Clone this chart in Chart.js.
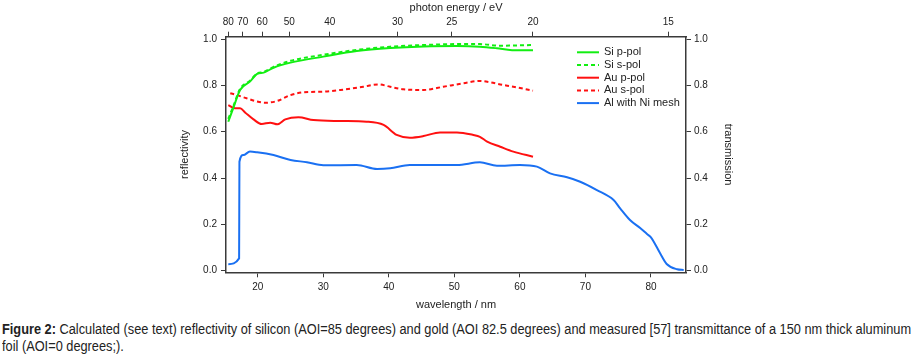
<!DOCTYPE html>
<html>
<head>
<meta charset="utf-8">
<script src="https://cdn.jsdelivr.net/npm/chart.js@4/dist/chart.umd.min.js"></script>
<style>
  html, body { margin: 0; padding: 0; background: #fff; }
  #wrap { position: relative; width: 916px; height: 358px; overflow: hidden; }
  #chart { position: absolute; left: 0; top: 0; }
  #caption {
    position: absolute; left: 2px; top: 321px; width: 997px;
    transform: scaleX(0.913); transform-origin: 0 0;
    font-family: "Liberation Sans Narrow", "Arial Narrow", "Liberation Sans", sans-serif;
    font-size: 14px; line-height: 17px; color: #222;
  }
  #caption b { font-weight: bold; }
</style>
</head>
<body>
<div id="wrap">
  <canvas id="chart" width="916" height="313"></canvas>
  <div id="caption"><b>Figure 2:</b> Calculated (see text) reflectivity of silicon (AOI=85 degrees) and gold (AOI 82.5 degrees) and measured [57] transmittance of a 150 nm thick aluminum foil (AOI=0 degrees;).</div>
</div>
<script>
const HC = 1239.84;

const wavelengthTicks = [20, 30, 40, 50, 60, 70, 80];
const energyTicks = [80, 70, 60, 50, 40, 30, 25, 20, 15];
const reflTicks = [0, 0.2, 0.4, 0.6, 0.8, 1.0];

const seriesLabels = ['Si p-pol', 'Si s-pol', 'Au p-pol', 'Au s-pol', 'Al with Ni mesh'];

const siPX = [15.5, 16.3, 17.3, 18.8, 19.9, 20.9, 22.4, 25.0, 30.0, 35.1, 40.2, 45.3, 50.4, 53.9, 56.5, 58.8, 62.0];
const siPY = [0.643, 0.705, 0.780, 0.816, 0.849, 0.855, 0.876, 0.898, 0.924, 0.948, 0.961, 0.968, 0.970, 0.967, 0.960, 0.952, 0.952];

const siSX = [15.5, 16.3, 17.3, 18.8, 19.9, 20.9, 22.4, 25.0, 30.0, 35.1, 40.2, 45.3, 50.4, 53.9, 57.0, 59.0, 62.0];
const siSY = [0.655, 0.712, 0.785, 0.820, 0.851, 0.858, 0.880, 0.906, 0.932, 0.953, 0.967, 0.974, 0.978, 0.978, 0.971, 0.972, 0.974];

const auPX = [15.5, 16.5, 17.3, 18.1, 19.35, 20.6, 21.9, 23.0, 24.2, 26.2, 28.5, 32.6, 36.6, 39.2, 41.2, 43.2, 45.3, 47.8, 50.4, 52.9, 53.9, 55.0, 57.0, 59.0, 62.0];
const auPY = [0.715, 0.701, 0.701, 0.682, 0.653, 0.633, 0.639, 0.632, 0.653, 0.662, 0.650, 0.646, 0.643, 0.629, 0.586, 0.574, 0.581, 0.597, 0.597, 0.586, 0.578, 0.557, 0.535, 0.514, 0.492];

const auSX = [15.8, 16.8, 18.3, 19.9, 21.1, 22.9, 25.0, 27.0, 30.0, 32.6, 36.1, 38.4, 40.2, 42.2, 45.3, 48.3, 51.4, 53.9, 55.5, 57.0, 59.0, 62.0];
const auSY = [0.766, 0.758, 0.744, 0.730, 0.725, 0.732, 0.758, 0.770, 0.773, 0.780, 0.794, 0.804, 0.794, 0.783, 0.780, 0.794, 0.809, 0.819, 0.813, 0.804, 0.794, 0.777];

const alX = [15.5, 17.15, 17.2, 17.8, 18.8, 19.9, 22.4, 25.0, 27.5, 30.0, 35.1, 38.2, 40.2, 43.2, 50.4, 53.9, 56.5, 60.0, 62.6, 64.6, 67.2, 69.2, 71.75, 74.3, 75.3, 76.8, 78.4, 79.4, 80.0, 81.4, 82.4, 84.0, 85.0];
const alY = [0.028, 0.053, 0.470, 0.499, 0.514, 0.511, 0.499, 0.478, 0.468, 0.455, 0.456, 0.439, 0.442, 0.456, 0.456, 0.468, 0.453, 0.456, 0.449, 0.420, 0.403, 0.384, 0.348, 0.305, 0.269, 0.219, 0.183, 0.158, 0.144, 0.075, 0.029, 0.006, 0.003];

const green = '#12ee12';
const red = '#ff1010';
const blue = '#1a70f2';
const axisColor = '#3a3a3a';
const textColor = '#222';
const fontFamily = '"Liberation Sans", Arial, sans-serif';

function pts(xs, ys) {
    return xs.map((x, i) => ({ x: x, y: ys[i] }));
}

function series(label, xs, ys, color, dashed) {
    return {
        label: label,
        data: pts(xs, ys),
        borderColor: color,
        backgroundColor: color,
        borderWidth: 2,
        borderDash: dashed ? [4, 3] : [],
        pointRadius: 0,
        cubicInterpolationMode: 'monotone',
        fill: false
    };
}

// legend drawn inside the plot, top right
const innerLegend = {
    id: 'innerLegend',
    afterDatasetsDraw(chart) {
        const ctx = chart.ctx;
        const area = chart.chartArea;
        const x0 = area.right - 109;
        const y0 = area.top + 15.6;
        ctx.save();
        ctx.font = '11px ' + fontFamily;
        ctx.textBaseline = 'middle';
        ctx.textAlign = 'left';
        chart.data.datasets.forEach((ds, i) => {
            const y = y0 + i * 12.7;
            ctx.strokeStyle = ds.borderColor;
            ctx.lineWidth = 2;
            ctx.setLineDash(ds.borderDash);
            ctx.beginPath();
            ctx.moveTo(x0, y);
            ctx.lineTo(x0 + 22, y);
            ctx.stroke();
            ctx.setLineDash([]);
            ctx.fillStyle = textColor;
            ctx.fillText(ds.label, x0 + 27, y);
        });
        ctx.restore();
    }
};

const gridOpts = { drawOnChartArea: false, drawTicks: true, tickLength: 5, color: axisColor, lineWidth: 1 };
const borderOpts = { display: true, color: axisColor, width: 1.5 };
const tickFont = { family: fontFamily, size: 10 };
const titleFont = { family: fontFamily, size: 11 };

const ctx = document.getElementById('chart').getContext('2d');
new Chart(ctx, {
    type: 'line',
    data: {
        datasets: [
            series(seriesLabels[0], siPX, siPY, green, false),
            series(seriesLabels[1], siSX, siSY, green, true),
            series(seriesLabels[2], auPX, auPY, red, false),
            series(seriesLabels[3], auSX, auSY, red, true),
            series(seriesLabels[4], alX, alY, blue, false)
        ]
    },
    options: {
        responsive: false,
        animation: false,
        layout: { padding: { left: 175, right: 180, top: 0, bottom: 0 } },
        plugins: {
            legend: { display: false },
            tooltip: { enabled: false }
        },
        scales: {
            x: {
                type: 'linear',
                position: 'bottom',
                min: 15.15,
                max: 85.35,
                afterBuildTicks: (scale) => { scale.ticks = wavelengthTicks.map(v => ({ value: v })); },
                afterFit: (scale) => { scale.height = 40.7; },
                grid: gridOpts,
                border: borderOpts,
                ticks: { font: tickFont, color: textColor, padding: 4, maxRotation: 0, autoSkip: false },
                title: { display: true, text: 'wavelength / nm', font: titleFont, color: textColor, padding: { top: 0, bottom: 1 } }
            },
            x2: {
                type: 'linear',
                position: 'top',
                min: 15.15,
                max: 85.35,
                afterBuildTicks: (scale) => { scale.ticks = energyTicks.map(e => ({ value: HC / e })); },
                afterFit: (scale) => { scale.height = 36.7; },
                grid: gridOpts,
                border: borderOpts,
                ticks: {
                    font: tickFont, color: textColor, padding: 3, maxRotation: 0, autoSkip: false,
                    callback: (v) => String(Math.round(HC / v))
                },
                title: { display: true, text: 'photon energy / eV', font: titleFont, color: textColor, padding: { top: 1, bottom: 0 } }
            },
            y: {
                type: 'linear',
                position: 'left',
                min: -0.007,
                max: 1.010,
                afterBuildTicks: (scale) => { scale.ticks = reflTicks.map(v => ({ value: v })); },
                afterFit: (scale) => { scale.width = 51; },
                grid: gridOpts,
                border: borderOpts,
                ticks: { font: tickFont, color: textColor, padding: 4, callback: (v) => v.toFixed(1) },
                title: { display: true, text: 'reflectivity', font: titleFont, color: textColor, padding: { top: 3, bottom: 0 } }
            },
            y2: {
                type: 'linear',
                position: 'right',
                min: -0.007,
                max: 1.010,
                afterBuildTicks: (scale) => { scale.ticks = reflTicks.map(v => ({ value: v })); },
                afterFit: (scale) => { scale.width = 50; },
                grid: gridOpts,
                border: borderOpts,
                ticks: { font: tickFont, color: textColor, padding: 3, callback: (v) => v.toFixed(1) },
                title: { display: true, text: 'transmission', font: titleFont, color: textColor, padding: { top: 1, bottom: 0 } }
            }
        }
    },
    plugins: [innerLegend]
});
</script>
</body>
</html>
